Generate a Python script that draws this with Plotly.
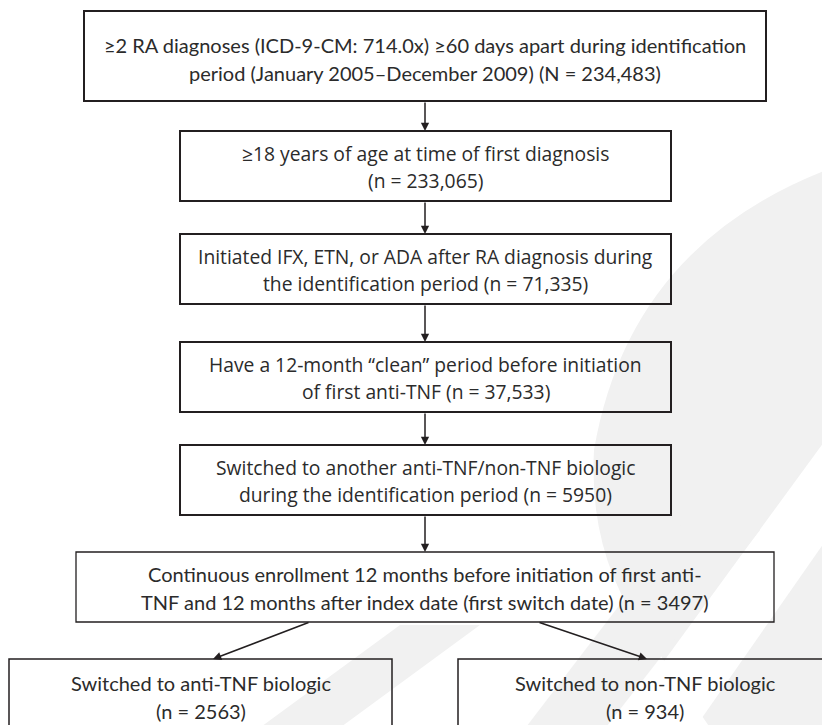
import plotly.graph_objects as go

# ---- content (flowchart steps) ----
step_lines = [
    ["≥2 RA diagnoses (ICD-9-CM: 714.0x) ≥60 days apart during identification",
     "period (January 2005–December 2009) (N = 234,483)"],
    ["≥18 years of age at time of first diagnosis", "(n = 233,065)"],
    ["Initiated IFX, ETN, or ADA after RA diagnosis during",
     "the identification period (n = 71,335)"],
    ["Have a 12-month “clean” period before initiation",
     "of first anti-TNF (n = 37,533)"],
    ["Switched to another anti-TNF/non-TNF biologic",
     "during the identification period (n = 5950)"],
    ["Continuous enrollment 12 months before initiation of first anti-",
     "TNF and 12 months after index date (first switch date) (n = 3497)"],
    ["Switched to anti-TNF biologic", "(n = 2563)"],
    ["Switched to non-TNF biologic", "(n = 934)"],
]

# ---- layout geometry (page pixels) ----
W, H = 830, 725
OFF = 8  # browser body margin: map data coords straight to page pixels
boxes = [  # x0, x1, y0, y1
    (84, 766, 11, 101),
    (180, 671, 131, 201),
    (180, 671, 234, 304),
    (180, 671, 342, 412),
    (180, 671, 445, 515),
    (76, 774, 552, 622),
    (9, 392, 659, 760),
    (458, 841, 659, 760),
]
box_lw = [2, 2, 2, 2, 2, 1.3, 1.5, 1.5]
line_y = [(45, 73), (153, 180), (256, 283), (364, 391), (467, 494), (574, 602), (683, 711), (683, 711)]
fonts = ["Lato", "Open Sans", "Open Sans", "Open Sans", "Open Sans", "Lato", "Lato", "Lato"]
fsize = [20, 19.3, 19.3, 19.3, 19.3, 20, 20, 20]
arrows = [  # (x_start, y_start, x_end, y_end)
    (425, 101, 425, 131),
    (425, 201, 425, 234),
    (425, 304, 425, 342),
    (425, 412, 425, 445),
    (425, 515, 425, 552),
    (310, 622, 213, 659),
    (538, 622, 647, 659),
]
cx = [(b[0] + b[1]) / 2 for b in boxes]
cx[6], cx[7] = 201, 645

ink = "#231f20"
fig = go.Figure()
fig.add_trace(go.Scatter(x=[OFF, W + OFF], y=[OFF, H + OFF], mode="markers", marker=dict(opacity=0),
                         hoverinfo="skip", showlegend=False))

shapes = []
# watermark-like light grey shapes
wm = "#f1f1f1"
shapes.append(dict(type="path", layer="below", line=dict(width=0), fillcolor=wm,
                   path="M 840 165 Q 630 240 594 450 Q 588 560 650 640 L 715 735 L 840 735 Z"))
shapes.append(dict(type="path", layer="below", line=dict(width=0), fillcolor="white",
                   path="M 610 735 L 690 735 L 840 520 L 840 420 Z"))
shapes.append(dict(type="path", layer="below", line=dict(width=0), fillcolor=wm,
                   path="M 520 735 L 600 735 L 760 530 L 700 500 Z"))
shapes.append(dict(type="path", layer="below", line=dict(width=0), fillcolor=wm,
                   path="M 250 735 L 330 735 L 480 625 L 400 625 Z"))
for (x0, x1, y0, y1), lw in zip(boxes, box_lw):
    shapes.append(dict(type="rect", x0=x0, x1=x1, y0=y0, y1=y1,
                       line=dict(color=ink, width=lw), fillcolor="rgba(255,255,255,0)"))

ann = []
for i, lines in enumerate(step_lines):
    for t, y in zip(lines, line_y[i]):
        ann.append(dict(x=cx[i], y=y, text=t, showarrow=False, xanchor="center", yanchor="middle",
                        font=dict(family=fonts[i], size=fsize[i], color="#2b2b2b")))
for xs, ys, xe, ye in arrows:
    ann.append(dict(x=xe, y=ye, ax=xs, ay=ys, xref="x", yref="y", axref="x", ayref="y",
                    text="", showarrow=True, arrowhead=2, arrowsize=1.1, arrowwidth=1.5,
                    arrowcolor=ink, standoff=0))

fig.update_layout(
    width=W, height=H, margin=dict(l=0, r=0, t=0, b=0),
    paper_bgcolor="white", plot_bgcolor="white",
    xaxis=dict(range=[OFF, W + OFF], visible=False, fixedrange=True),
    yaxis=dict(range=[H + OFF, OFF], visible=False, fixedrange=True),
    shapes=shapes, annotations=ann, showlegend=False,
)
fig.write_html("out.html")
